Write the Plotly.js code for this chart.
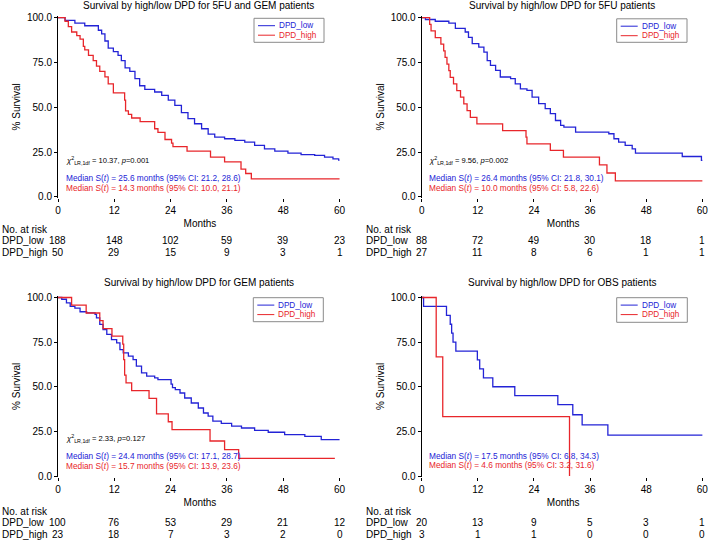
<!DOCTYPE html>
<html><head><meta charset="utf-8">
<script src="https://cdn.plot.ly/plotly-3.0.1.min.js"></script>
<style>html,body{margin:0;padding:0;background:#fff;} #chart{width:708px;height:541px;}</style>
</head><body><div id="chart"></div>
<script>
// ---------------- DATA ----------------
const monthTicks = [0, 12, 24, 36, 48, 60];
const survTicks = [0, 25, 50, 75, 100];
const groupNames = ['DPD_low', 'DPD_high'];
const xTitle = 'Months';
const yTitle = '% Survival';
const panelTitles = [
  'Survival by high/low DPD for 5FU and GEM patients',
  'Survival by high/low DPD for 5FU patients',
  'Survival by high/low DPD for GEM patients',
  'Survival by high/low DPD for OBS patients'
];

// Panel 1: 5FU and GEM
const p1LowT  = [0, 1.5, 3.6, 5.7, 8.6, 9.3, 10.0, 10.7, 11.8, 12.8, 13.5, 14.3, 15.3, 16.4, 17.4, 18.5, 20.6, 22.1, 23.5, 24.9, 26.3, 27.7, 29.1, 30.6, 32.0, 33.4, 35.5, 37.7, 39.8, 41.9, 44.0, 46.2, 49.0, 51.8, 54.7, 56.8, 58.6, 59.8, 60];
const p1LowS  = [100, 98.5, 97, 95.5, 93, 91, 87, 83, 81, 79, 76, 72, 70, 66, 62, 60, 58.5, 56.6, 54, 51, 47, 43.6, 40.8, 38, 35, 33.3, 32.4, 31.5, 30.5, 28.7, 26.8, 25.5, 24.4, 23.6, 23.1, 22.2, 21.2, 20.5, 20.5];
const p1HighT = [0, 1.5, 2.2, 2.9, 4.0, 4.7, 5.4, 5.7, 6.5, 7.5, 8.2, 8.9, 10.0, 10.7, 11.8, 14.2, 14.4, 15.0, 15.7, 17.5, 20.6, 21.3, 22.8, 24.2, 24.5, 27.5, 32.5, 35.5, 39.0, 40.0, 41.2, 60];
const p1HighS = [100, 98, 95, 92, 90, 88, 84, 82, 79, 76, 73, 70, 67, 63, 58, 54, 48, 46, 44, 42, 38, 36, 32, 30, 28, 25.5, 22.2, 19.5, 15.5, 13, 10, 10];

// Panel 2: 5FU
const p2LowT  = [0, 0.8, 2.9, 5.8, 7.2, 9.3, 10.0, 10.8, 12.2, 13.3, 14.0, 14.7, 15.8, 16.8, 19.0, 20.0, 21.1, 22.5, 23.6, 25.0, 26.4, 27.5, 28.6, 29.7, 30.4, 32.9, 40.0, 41.1, 42.1, 43.5, 45.0, 45.7, 55.7, 59.8, 60];
const p2LowS  = [100, 99, 98, 97, 94, 92, 89, 85.5, 83.6, 80.8, 76, 73.4, 70.6, 66.9, 66, 63, 60.3, 59.4, 55.7, 52, 49.2, 46.4, 42.6, 39.9, 38.9, 36.1, 35.2, 32.4, 30.5, 28.7, 26.8, 24.4, 22.5, 20.3, 20.3];
const p2HighT = [0, 1.7, 2.0, 2.9, 4.1, 4.7, 5.0, 5.4, 5.8, 6.1, 6.8, 7.5, 8.3, 9.0, 9.7, 10.4, 11.8, 17.3, 22.3, 22.5, 27.5, 30.3, 38.0, 39.6, 41.4, 60];
const p2HighS = [100, 96.3, 92.6, 88.9, 85.2, 81.5, 77.8, 74.1, 70.4, 66.7, 63, 59.3, 55.6, 51.9, 48.1, 44.4, 40.7, 37, 33.3, 29.6, 25.9, 22.2, 17.8, 13.3, 8.9, 8.9];

// Panel 3: GEM
const p3LowT  = [0, 0.8, 1.8, 2.6, 3.6, 4.7, 6.1, 7.9, 8.2, 8.9, 9.6, 10.4, 11.4, 12.5, 13.2, 13.9, 15.0, 16.0, 16.7, 17.8, 18.9, 20.6, 21.3, 24.1, 24.4, 25.0, 26.0, 27.0, 28.4, 29.9, 31.0, 32.0, 33.0, 34.8, 37.0, 39.1, 41.9, 44.8, 48.3, 52.6, 56.1, 60];
const p3LowS  = [100, 99, 97, 95, 94, 92, 91.4, 90.5, 88.6, 84.9, 82, 79.3, 76.4, 74.6, 70.8, 69, 67.1, 65.2, 61.5, 57.8, 55.9, 55, 54, 51.5, 49.5, 48.4, 46.5, 43.7, 40.9, 38.1, 35.3, 33.5, 30.7, 29.5, 27.9, 26.9, 25.6, 24.5, 23.2, 22.2, 20.4, 20.4];
const p3HighT = [0, 2.9, 6.0, 8.9, 9.6, 11.5, 13.8, 14.0, 14.2, 14.5, 15.7, 19.4, 21.0, 23.5, 24.3, 32.4, 35.5, 38.5, 59];
const p3HighS = [100, 95.7, 91.3, 87, 82.6, 78.3, 73.9, 65.2, 56.5, 52.2, 47.8, 43.5, 34.8, 30.4, 26, 19.6, 14.8, 9.9, 9.9];

// Panel 4: OBS
const p4LowT  = [0, 0.4, 5.3, 6.1, 6.4, 6.7, 7.3, 11.9, 12.4, 13.2, 15.2, 19.9, 29.1, 32.3, 34.3, 39.8, 60];
const p4LowS  = [100, 95, 90, 85, 80, 75, 70, 65, 60, 55, 50, 45, 40, 34.3, 28.6, 22.9, 22.9];
const p4HighT = [0, 3.1, 4.5, 31.6];
const p4HighS = [100, 66.7, 33.3, 0];

// Numbers at risk
const riskLow  = [[188, 148, 102, 59, 39, 23], [88, 72, 49, 30, 18, 1], [100, 76, 53, 29, 21, 12], [20, 13, 9, 5, 3, 1]];
const riskHigh = [[50, 29, 15, 9, 3, 1], [27, 11, 8, 6, 1, 1], [23, 18, 7, 3, 2, 0], [3, 1, 1, 0, 0, 0]];

// Statistics
const chiValues = ['10.37', '9.56', '2.33', null];
const pValues   = ['0.001', '0.002', '0.127', null];
const medLow    = [['25.6', '21.2', '28.6'], ['26.4', '21.8', '30.1'], ['24.4', '17.1', '28.7'], ['17.5', '6.8', '34.3']];
const medHigh   = [['14.3', '10.0', '21.1'], ['10.0', '5.8', '22.6'], ['15.7', '13.9', '23.6'], ['4.6', '3.2', '31.6']];

// ---------------- STYLE / LAYOUT ----------------
const W = 708, H = 541;
const BLUE = '#2323d6', RED = '#e8262b';
const FONT = 'Liberation Sans, Arial, Helvetica, sans-serif';
const px = v => v / W;
const py = v => 1 - v / H;

const curves = [[p1LowT, p1LowS, p1HighT, p1HighS], [p2LowT, p2LowS, p2HighT, p2HighS],
                [p3LowT, p3LowS, p3HighT, p3HighS], [p4LowT, p4LowS, p4HighT, p4HighS]];

// panel geometry (pixels)
const panels = [
  {xd: [58, 341.9],  yd: [197.7, 15.9],  left: 0,   textX: 64,  chiY: 160.7, mLowY: 178.3, mHighY: 188,
   titleX: 198.5, titleY: 5, riskY: [229.3, 240.3, 252.3], leg: [254, 324, 18.3, 42.3]},
  {xd: [421.7, 704.7], yd: [197.7, 15.9], left: 364, textX: 427, chiY: 160.7, mLowY: 178.3, mHighY: 187.5,
   titleX: 562.3, titleY: 5, riskY: [229.3, 240.3, 252.3], leg: [616.7, 687, 18.8, 42.3]},
  {xd: [58, 341.9],  yd: [476.9, 295.7], left: 0,   textX: 64,  chiY: 438.7, mLowY: 456.3, mHighY: 466,
   titleX: 198.5, titleY: 282.7, riskY: [511, 522.3, 534.3], leg: [253.3, 323.3, 297.7, 321.7]},
  {xd: [421.7, 704.7], yd: [476.9, 295.7], left: 364, textX: 427, chiY: 438.7, mLowY: 456.3, mHighY: 465.3,
   titleX: 561.5, titleY: 282.7, riskY: [511, 522.3, 534.3], leg: [616.7, 687.3, 297.7, 322.3]}
];

const traces = [];
const layout = {
  width: W, height: H, margin: {l: 0, r: 0, t: 0, b: 0},
  paper_bgcolor: '#fff', plot_bgcolor: '#fff',
  font: {family: FONT, size: 10, color: '#000'},
  showlegend: false, annotations: [], shapes: []
};

function ann(text, x, y, o = {}) {
  layout.annotations.push(Object.assign({
    text: text, x: x, y: y, xref: 'paper', yref: 'paper', showarrow: false,
    xanchor: 'left', yanchor: 'middle', font: {family: FONT, size: 10, color: '#000'}
  }, o));
}

panels.forEach((p, i) => {
  const n = i + 1;
  const xa = 'x' + (n === 1 ? '' : n), ya = 'y' + (n === 1 ? '' : n);
  const xk = 'xaxis' + (n === 1 ? '' : n), yk = 'yaxis' + (n === 1 ? '' : n);
  const c = curves[i];
  [[c[0], c[1], BLUE, groupNames[0]], [c[2], c[3], RED, groupNames[1]]].forEach(d => {
    traces.push({x: d[0], y: d[1], name: d[3], type: 'scatter', mode: 'lines',
      line: {shape: 'hv', color: d[2], width: 1.3}, xaxis: xa, yaxis: ya, hoverinfo: 'skip'});
  });
  layout[xk] = {domain: [px(p.xd[0]), px(p.xd[1])], range: [0, 60.5], anchor: ya,
    tickvals: monthTicks, ticks: 'outside', ticklen: 3, tickcolor: '#000', showline: false,
    showgrid: false, zeroline: false, tickfont: {size: 10, family: FONT}, fixedrange: true,
    ticklabeloverflow: 'allow',
    title: {text: xTitle, standoff: 5, font: {size: 10, family: FONT}}};
  layout[yk] = {domain: [py(p.yd[0]), py(p.yd[1])], range: [-0.5, 101], anchor: xa,
    tickvals: survTicks, tickformat: '.1f', ticks: 'outside', ticklen: 3, tickcolor: '#000',
    showline: true, linecolor: '#000', linewidth: 1, showgrid: false, zeroline: false,
    tickfont: {size: 10, family: FONT}, fixedrange: true,
    title: {text: yTitle, standoff: 4, font: {size: 10, family: FONT}}};

  // title
  ann(panelTitles[i], px(p.titleX), py(p.titleY), {xanchor: 'center', font: {family: FONT, size: 10}});
  // stats
  if (chiValues[i] !== null) {
    ann('<i>χ</i><sup>2</sup><sub>LR,1df</sub> = ' + chiValues[i] + ', <i>p</i>=' + pValues[i],
        px(p.textX), py(p.chiY), {font: {family: FONT, size: 7.6, color: '#000'}});
  }
  const ml = medLow[i], mh = medHigh[i];
  ann('Median S(<i>t</i>) = ' + ml[0] + ' months (95% CI: ' + ml[1] + ', ' + ml[2] + ')',
      px(p.textX), py(p.mLowY), {font: {family: FONT, size: 8.3, color: BLUE}});
  ann('Median S(<i>t</i>) = ' + mh[0] + ' months (95% CI: ' + mh[1] + ', ' + mh[2] + ')',
      px(p.textX), py(p.mHighY), {font: {family: FONT, size: 8.3, color: RED}});

  // legend box
  const [lx0, lx1, ly0, ly1] = p.leg;
  layout.shapes.push({type: 'rect', xref: 'paper', yref: 'paper', x0: px(lx0), x1: px(lx1), y0: py(ly0), y1: py(ly1),
    line: {color: '#8a8a8a', width: 1}, fillcolor: 'rgba(0,0,0,0)'});
  [[BLUE, groupNames[0], ly0 + 7.4], [RED, groupNames[1], ly0 + 16.9]].forEach(e => {
    layout.shapes.push({type: 'line', xref: 'paper', yref: 'paper', x0: px(lx0 + 4), x1: px(lx0 + 21),
      y0: py(e[2]), y1: py(e[2]), line: {color: e[0], width: 1}});
    ann(e[1], px(lx0 + 24), py(e[2]), {font: {family: FONT, size: 8.2, color: e[0]}, borderpad: 0});
  });

  // numbers at risk
  ann('No. at risk', px(p.left), py(p.riskY[0]), {xanchor: 'left'});
  ann(groupNames[0], px(p.left), py(p.riskY[1]), {xanchor: 'left'});
  ann(groupNames[1], px(p.left), py(p.riskY[2]), {xanchor: 'left'});
  monthTicks.forEach((m, k) => {
    ann(String(riskLow[i][k]), m, py(p.riskY[1]), {xref: xa, xanchor: 'center'});
    ann(String(riskHigh[i][k]), m, py(p.riskY[2]), {xref: xa, xanchor: 'center'});
  });
});

Plotly.newPlot('chart', traces, layout, {staticPlot: true, displayModeBar: false});
</script>
</body></html>
